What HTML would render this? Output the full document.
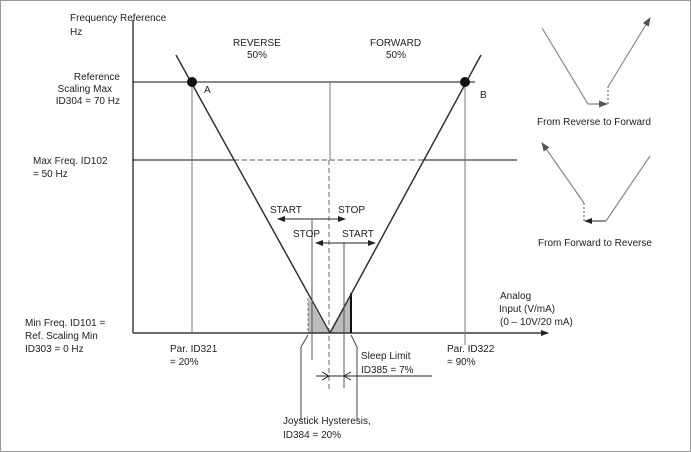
<!DOCTYPE html>
<html><head><style>body{margin:0;background:#fff}svg{display:block}text{font-family:"Liberation Sans",sans-serif;font-size:10px;fill:#222}</style></head><body>
<svg width="691" height="452" viewBox="0 0 691 452" xmlns="http://www.w3.org/2000/svg">
<defs>
<marker id="ar" markerWidth="8" markerHeight="6" refX="7" refY="3" orient="auto" markerUnits="userSpaceOnUse"><path d="M0,0 L8,3 L0,6 z" fill="#222"/></marker>
<marker id="ag" markerWidth="9" markerHeight="7" refX="8" refY="3.5" orient="auto" markerUnits="userSpaceOnUse"><path d="M0,0 L9,3.5 L0,7 z" fill="#555"/></marker>
</defs>
<rect x="0.5" y="0.5" width="690" height="451" fill="none" stroke="#999"/>
<!-- shaded -->
<path d="M308,300 L310,300 L329,333 L308,333 z" fill="#bbb"/>
<path d="M329,333 L351,293 L351,333 z" fill="#bbb"/>
<line x1="308" y1="298" x2="308" y2="333" stroke="#777" stroke-dasharray="3,2"/>
<line x1="351" y1="293" x2="351" y2="333" stroke="#111" stroke-width="2"/>
<!-- axes -->
<line x1="133" y1="20" x2="133" y2="333" stroke="#111" stroke-width="1.2"/>
<line x1="133" y1="333" x2="548" y2="333" stroke="#111" stroke-width="1.2" marker-end="url(#ar)"/>
<!-- horizontals -->
<line x1="133" y1="82" x2="475" y2="82" stroke="#111"/>
<line x1="133" y1="160" x2="234" y2="160" stroke="#111"/>
<line x1="234" y1="160" x2="423" y2="160" stroke="#555" stroke-dasharray="5,3"/>
<line x1="423" y1="160" x2="517" y2="160" stroke="#111"/>
<!-- verticals -->
<line x1="192" y1="82" x2="192" y2="333" stroke="#777"/>
<line x1="465" y1="82" x2="465" y2="345" stroke="#777"/>
<line x1="330" y1="82" x2="330" y2="160" stroke="#777"/>
<line x1="329" y1="160" x2="329" y2="392" stroke="#666" stroke-dasharray="5,3"/>
<!-- V -->
<line x1="176" y1="55" x2="330" y2="333" stroke="#333" stroke-width="1.5"/>
<line x1="330" y1="333" x2="481" y2="55" stroke="#333" stroke-width="1.5"/>
<circle cx="192" cy="82" r="5" fill="#111"/>
<circle cx="465" cy="82" r="5" fill="#111"/>
<!-- start/stop -->
<line x1="312" y1="220" x2="312" y2="360" stroke="#555"/>
<line x1="344" y1="243" x2="344" y2="388" stroke="#555"/>
<line x1="312" y1="219" x2="278" y2="219" stroke="#222" marker-end="url(#ar)"/>
<line x1="312" y1="219" x2="345" y2="219" stroke="#222" marker-end="url(#ar)"/>
<line x1="344" y1="243" x2="316" y2="243" stroke="#222" marker-end="url(#ar)"/>
<line x1="344" y1="243" x2="375" y2="243" stroke="#222" marker-end="url(#ar)"/>
<!-- joystick leaders -->
<polyline points="308,335 301,347 301,420" fill="none" stroke="#444"/>
<polyline points="351,335 357,347 357,420" fill="none" stroke="#444"/>
<!-- sleep limit -->
<line x1="316" y1="376" x2="432" y2="376" stroke="#222"/>
<path d="M322,372 L329,376 L322,380 M351,372 L344,376 L351,380" fill="none" stroke="#222"/>
<!-- labels -->
<text x="70" y="21">Frequency Reference</text>
<text x="70" y="35">Hz</text>
<text x="233" y="46">REVERSE</text><text x="247" y="58">50%</text>
<text x="370" y="46">FORWARD</text><text x="386" y="58">50%</text>
<text x="120" y="80" text-anchor="end">Reference</text>
<text x="112" y="92" text-anchor="end">Scaling Max</text>
<text x="120" y="104" text-anchor="end">ID304 = 70 Hz</text>
<text x="33" y="164">Max Freq. ID102</text>
<text x="33" y="177">= 50 Hz</text>
<text x="25" y="326">Min Freq. ID101 =</text>
<text x="25" y="339">Ref. Scaling Min</text>
<text x="25" y="352">ID303 = 0 Hz</text>
<text x="204" y="93">A</text><text x="480" y="98">B</text>
<text x="170" y="352">Par. ID321</text><text x="170" y="365">= 20%</text>
<text x="447" y="352">Par. ID322</text><text x="447" y="365">= 90%</text>
<text x="500" y="299">Analog</text>
<text x="499" y="312">Input (V/mA)</text>
<text x="500" y="325">(0 – 10V/20 mA)</text>
<text x="270" y="213">START</text><text x="338" y="213">STOP</text>
<text x="293" y="237">STOP</text><text x="342" y="237">START</text>
<text x="361" y="359">Sleep Limit</text>
<text x="361" y="373">ID385 = 7%</text>
<text x="283" y="424">Joystick Hysteresis,</text>
<text x="283" y="438">ID384 = 20%</text>
<!-- right icons -->
<polyline points="542,28 588,104 607,104" fill="none" stroke="#888" stroke-width="1.2" marker-end="url(#ag)"/>
<line x1="608" y1="104" x2="608" y2="87" stroke="#555" stroke-dasharray="2,2"/>
<line x1="608" y1="87" x2="650" y2="18" stroke="#888" stroke-width="1.2" marker-end="url(#ag)"/>
<text x="537" y="125">From Reverse to Forward</text>
<line x1="584" y1="203" x2="542" y2="143" stroke="#888" stroke-width="1.2" marker-end="url(#ag)"/>
<line x1="584" y1="203" x2="584" y2="221" stroke="#555" stroke-dasharray="2,2"/>
<line x1="606" y1="221" x2="585" y2="221" stroke="#222" marker-end="url(#ar)"/>
<line x1="606" y1="221" x2="650" y2="156" stroke="#888" stroke-width="1.2"/>
<text x="538" y="246">From Forward to Reverse</text>
</svg>
</body></html>
